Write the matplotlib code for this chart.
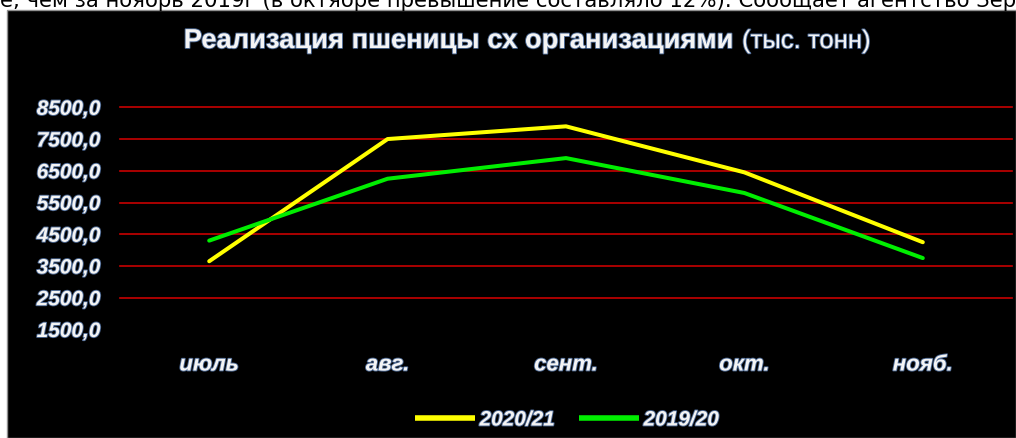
import matplotlib
matplotlib.use('Agg')
import matplotlib.pyplot as plt
import matplotlib.patheffects as pe
from matplotlib.patches import Rectangle

# data
months = ['июль', 'авг.', 'сент.', 'окт.', 'нояб.']
sales_2020 = [3650, 7500, 7900, 6450, 4250]
sales_2019 = [4300, 6250, 6900, 5800, 3750]
y_ticks = [1500, 2500, 3500, 4500, 5500, 6500, 7500, 8500]
series_labels = ['2020/21', '2019/20']

title_bold = 'Реализация пшеницы сх организациями'
title_unit = '(тыс. тонн)'
top_text = ('е, чем за ноябрь 2019г (в октябре превышение составляло 12%). '
            'Сообщает агентство Зерновые')

W, H = 1016, 439
plt.rcParams['font.family'] = ['Liberation Sans', 'DejaVu Sans']

glow = [pe.withStroke(linewidth=1.3, foreground='#4a6690')]
txt_color = '#f4f4f4'


def fx(px):
    return px / W


def fy(py):
    return (H - py) / H


fig = plt.figure(figsize=(W / 100, H / 100), dpi=100, facecolor='white')

# black chart box with thin grey border
fig.patches.append(Rectangle((fx(7), 0), 1 - fx(7), fy(11), transform=fig.transFigure,
                             facecolor='black', edgecolor='#909090', linewidth=1.0,
                             zorder=-10))

# clipped line of article text above the chart
fig.text(0.0, fy(7), top_text, family='DejaVu Sans', fontsize=15.3, color='black',
         ha='left', va='baseline', zorder=-5)

ax = fig.add_axes([fx(120), fy(330.5), fx(1012) - fx(120), fy(108.3) - fy(330.5)])
ax.set_facecolor('none')
x = list(range(len(months)))

for v in y_ticks[1:]:
    ax.axhline(v, color='#c80000', linewidth=1.2, zorder=1, clip_on=False)

ax.plot(x, sales_2020, color='#ffff00', linewidth=2.9, label=series_labels[0],
        solid_capstyle='round', zorder=3)
ax.plot(x, sales_2019, color='#00ee00', linewidth=2.9, label=series_labels[1],
        solid_capstyle='round', zorder=3)

ax.set_xlim(-0.5, len(months) - 0.5)
ax.set_ylim(y_ticks[0], y_ticks[-1])
ax.set_yticks(y_ticks)
ax.set_yticklabels([f'{v:.1f}'.replace('.', ',') for v in y_ticks])
ax.set_xticks(x)
ax.set_xticklabels(months)
ax.tick_params(length=0)
ax.tick_params(axis='y', pad=14)
ax.tick_params(axis='x', pad=18)
for lab in ax.get_yticklabels() + ax.get_xticklabels():
    lab.set_fontsize(15)
    lab.set_fontweight('bold')
    lab.set_fontstyle('italic')
    lab.set_color(txt_color)
    lab.set_path_effects(glow)
for lab in ax.get_xticklabels():
    lab.set_fontsize(16)
for s in ax.spines.values():
    s.set_visible(False)

# title: bold part + regular units
fig.text(fx(733), fy(42), title_bold, fontsize=19.7, fontweight='bold', color=txt_color,
         ha='right', va='center', path_effects=glow)
fig.text(fx(742), fy(42), title_unit, fontsize=18.5, color=txt_color,
         ha='left', va='center', path_effects=glow)

leg = fig.legend(loc='center', bbox_to_anchor=(fx(567), fy(421)), ncol=2, frameon=False,
                 handlelength=2.9, handletextpad=0.2, columnspacing=1.15,
                 prop={'size': 15, 'weight': 'bold', 'style': 'italic'})
for t in leg.get_texts():
    t.set_color(txt_color)
    t.set_path_effects(glow)
for ln in leg.get_lines():
    ln.set_linewidth(4)
    ln.set_solid_capstyle('butt')

fig.savefig('out.png', dpi=100, facecolor='white')
